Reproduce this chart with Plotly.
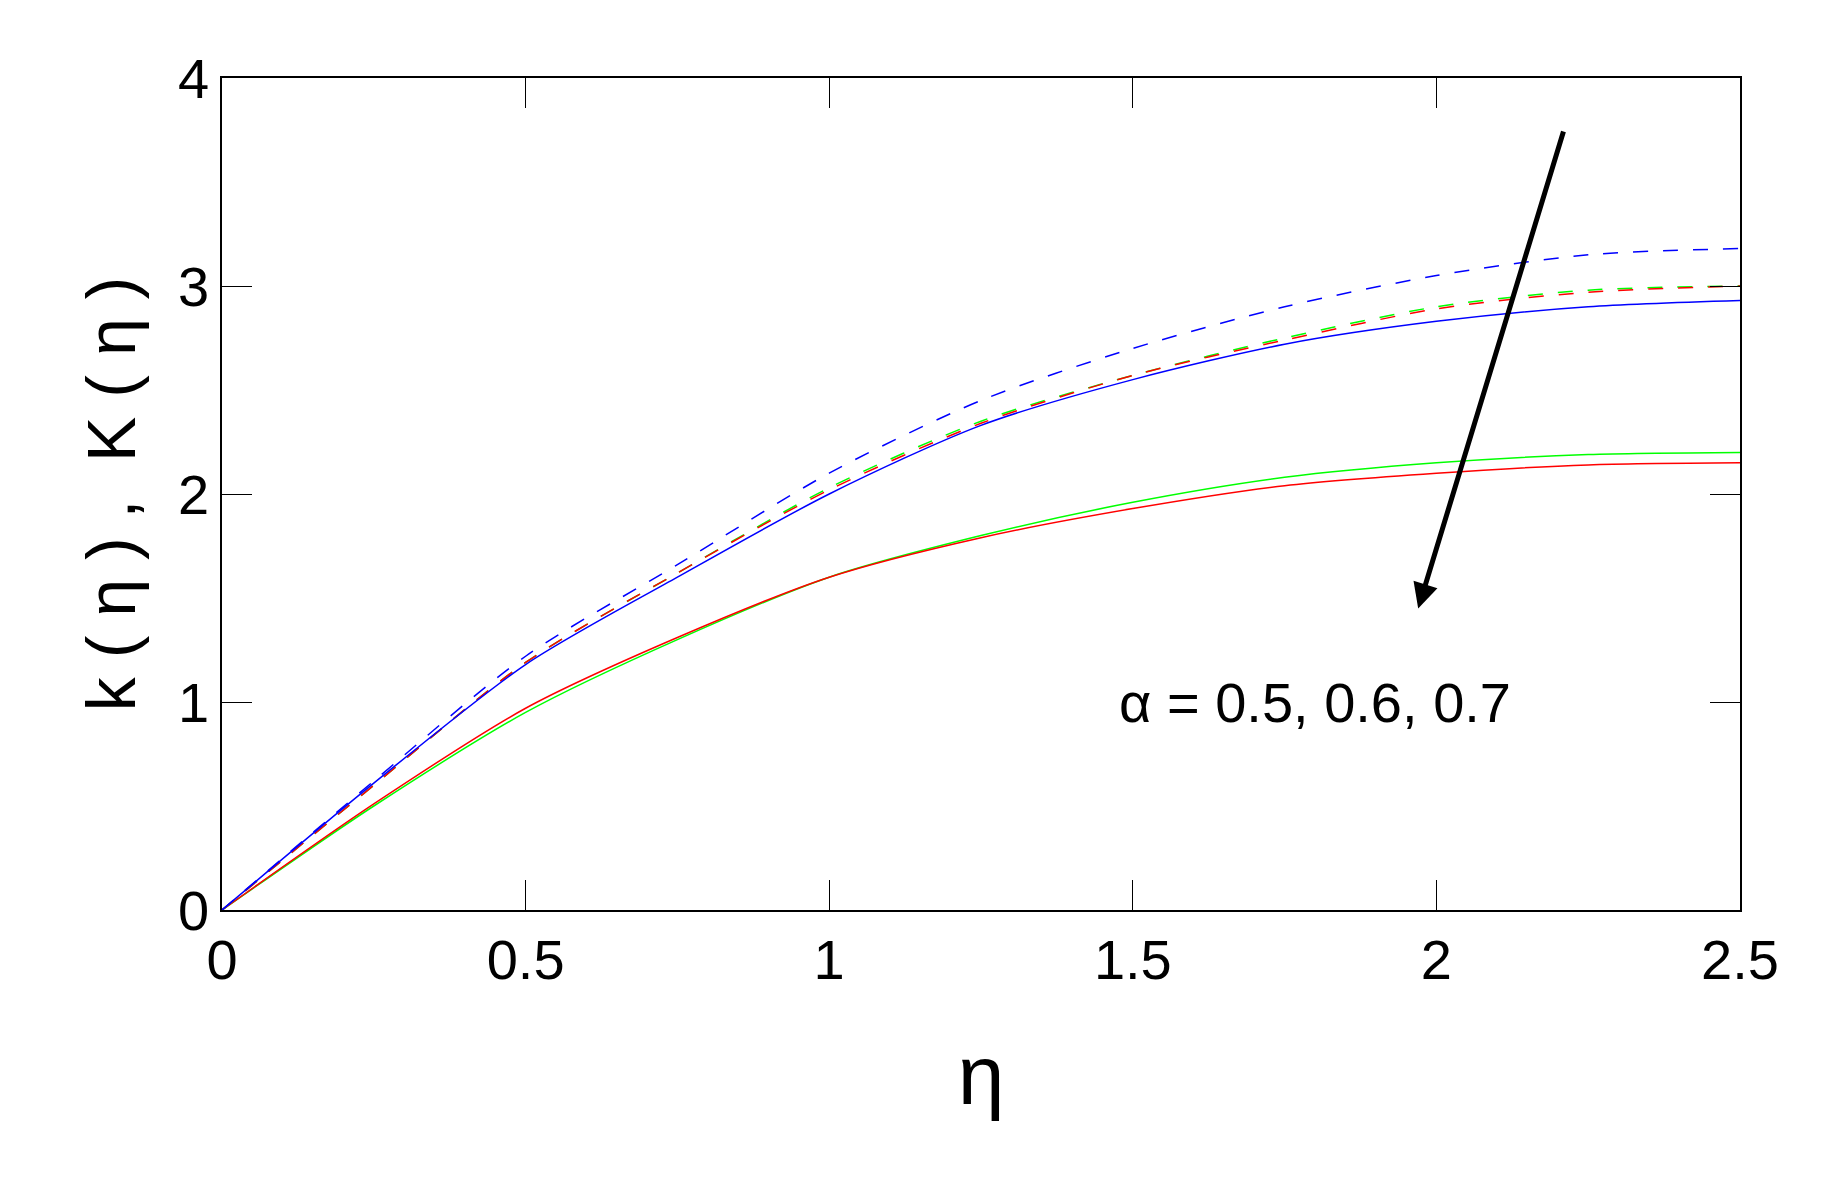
import plotly.graph_objects as go

eta = [0, 0.25, 0.5, 0.75, 1.0, 1.25, 1.5, 1.75, 2.0, 2.25, 2.5]
k_blue_dash = [0, 0.62, 1.22, 1.66, 2.10, 2.45, 2.70, 2.90, 3.05, 3.15, 3.18]
k_green_dash = [0, 0.60, 1.19, 1.62, 2.03, 2.35, 2.57, 2.75, 2.90, 2.98, 3.00]
k_red_dash = [0, 0.60, 1.19, 1.62, 2.02, 2.34, 2.57, 2.74, 2.89, 2.97, 3.00]
k_blue = [0, 0.61, 1.18, 1.60, 2.00, 2.33, 2.55, 2.72, 2.83, 2.90, 2.93]
K_green = [0, 0.50, 0.95, 1.30, 1.60, 1.80, 1.96, 2.08, 2.15, 2.19, 2.20]
K_red = [0, 0.51, 0.97, 1.31, 1.60, 1.79, 1.93, 2.04, 2.10, 2.14, 2.15]

FONT = "Liberation Sans Narrow, Arial Narrow, Liberation Sans, sans-serif"
fig = go.Figure()
series = [
    (K_green, "#00ff00", "solid"), (K_red, "#ff0000", "solid"),
    (k_green_dash, "#00ff00", "longdash"), (k_red_dash, "#ff0000", "longdash"),
    (k_blue, "#0000ff", "solid"), (k_blue_dash, "#0000ff", "longdash"),
]
for y, c, d in series:
    fig.add_trace(go.Scatter(x=eta, y=y, mode="lines", line=dict(color=c, width=1.5, dash=d, shape="spline", smoothing=0.8), showlegend=False))

fig.add_annotation(x=1.97, y=1.45, ax=2.21, ay=3.75, xref="x", yref="y", axref="x", ayref="y",
                   showarrow=True, arrowhead=2, arrowsize=1, arrowwidth=5, arrowcolor="black", text="")
fig.add_annotation(x=1.8, y=1.0, xref="x", yref="y", text="α = 0.5, 0.6, 0.7", showarrow=False,
                   font=dict(size=56, family=FONT, color="black"))

axis = dict(showline=True, linecolor="black", linewidth=1.5, mirror="ticks", ticks="inside", ticklen=30,
            tickcolor="black", showgrid=False, zeroline=False, tickfont=dict(size=56, family=FONT, color="black"))
fig.update_xaxes(range=[0, 2.5], tickvals=[0, 0.5, 1, 1.5, 2, 2.5], ticktext=["0", "0.5", "1", "1.5", "2", "2.5"],
                 title=dict(text="η", font=dict(size=84, family=FONT, color="black"), standoff=55), **axis)
fig.update_yaxes(range=[0, 4], tickvals=[0, 1, 2, 3, 4],
                 title=dict(text="k ( η ) ,  K ( η )", font=dict(size=68, family=FONT, color="black"), standoff=20), **axis)
fig.update_layout(width=1822, height=1192, plot_bgcolor="white", paper_bgcolor="white",
                  margin=dict(l=214, r=90, t=70, b=290))
fig.write_html("out.html")
